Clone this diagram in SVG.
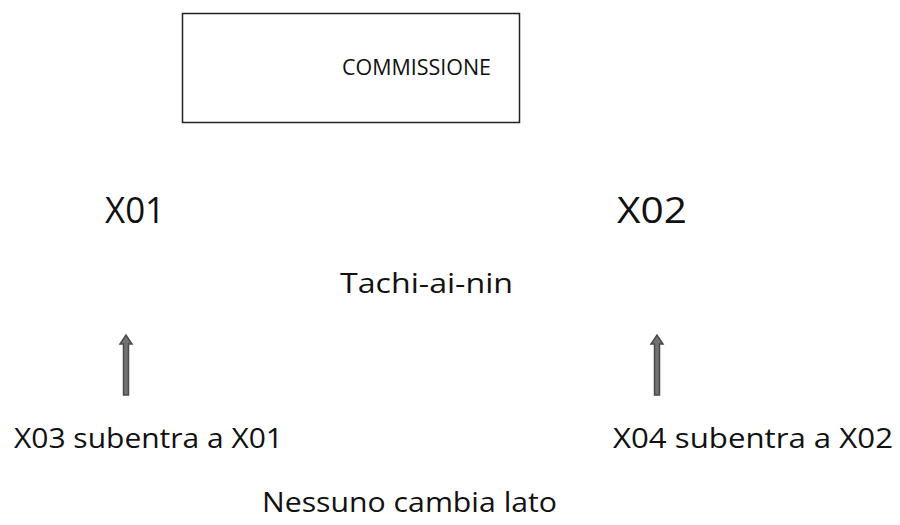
<svg xmlns="http://www.w3.org/2000/svg" width="900" height="525" viewBox="0 0 900 525">
<style>
text{font-family:"Open Sans","Noto Sans","Liberation Sans",sans-serif;fill:#111}
.big{font-size:37px}
.mid{font-size:28px}
.arr{fill:#727272;stroke:#4a4a4a;stroke-width:1.5}
</style>
<rect width="900" height="525" fill="#fff"/>
<g id="commissione">
<rect x="182.5" y="13.5" width="337" height="109" fill="#fff" stroke="#222" stroke-width="1.5"/>
<text x="342" y="75" font-size="21" textLength="149" lengthAdjust="spacingAndGlyphs">COMMISSIONE</text>
</g>
<g id="x01"><text class="big" x="105" y="223" textLength="60" lengthAdjust="spacingAndGlyphs">X01</text></g>
<g id="x02"><text class="big" x="617" y="223" textLength="70" lengthAdjust="spacingAndGlyphs">X02</text></g>
<g id="tachi"><text class="mid" x="340" y="293" textLength="173" lengthAdjust="spacingAndGlyphs">Tachi-ai-nin</text></g>
<g id="x03"><text class="mid" x="14" y="448" textLength="269" lengthAdjust="spacingAndGlyphs">X03 subentra a X01</text></g>
<g id="x04"><text class="mid" x="613" y="448" textLength="280" lengthAdjust="spacingAndGlyphs">X04 subentra a X02</text></g>
<g id="nessuno"><text class="mid" x="262" y="512" textLength="295" lengthAdjust="spacingAndGlyphs">Nessuno cambia lato</text></g>
<g id="connectors">
<path class="arr" d="M123.5 395 V344 H120 L126 335 L132 344 H128.5 V395 Z"/>
<path class="arr" d="M654.5 395 V344 H651 L657 335 L663 344 H659.5 V395 Z"/>
</g>
</svg>
